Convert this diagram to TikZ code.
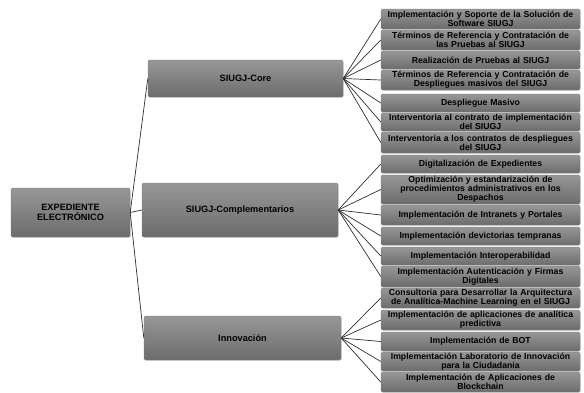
\documentclass[tikz,border=0pt]{standalone}
\usepackage{fontspec}
\setmainfont{Liberation Sans}
\usetikzlibrary{shadows}
\definecolor{boxtop}{HTML}{979797}
\definecolor{boxbot}{HTML}{6C6C6C}
\definecolor{boxedge}{HTML}{7E7E7E}
\definecolor{linecol}{HTML}{2E2E2E}
\definecolor{txtcol}{HTML}{000000}
\tikzset{
  gbox/.style={rectangle, rounded corners=1.5pt, draw=boxedge, line width=0.4pt,
    top color=boxtop, bottom color=boxbot, inner sep=0pt, align=center,
    text=txtcol, font=\bfseries,
    drop shadow={opacity=0.25, shadow xshift=0.8pt, shadow yshift=-0.8pt}},
  leaf/.style={gbox, minimum width=199pt, text width=199pt,
    font=\fontsize{8.7}{9.2}\selectfont\bfseries},
  mid/.style={gbox, font=\fontsize{9.2}{10.2}\selectfont\bfseries},
  conn/.style={draw=linecol, line width=0.7pt}
}
\begin{document}
\begin{tikzpicture}[x=1pt,y=-1pt]
\useasboundingbox (0,0) rectangle (584,392);
% root and mid level
\node[mid, minimum width=119pt, minimum height=49pt] (root) at (70.5,212.5) {EXPEDIENTE\\ELECTRÓNICO};
\node[mid, minimum width=195pt, minimum height=37pt] (core) at (245.5,78.5) {SIUGJ-Core};
\node[mid, minimum width=196pt, minimum height=54pt] (comp) at (240,210) {SIUGJ-Complementarios};
\node[mid, minimum width=197pt, minimum height=44pt] (inno) at (242.5,338) {Innovación};
% leaves
\node[leaf, minimum height=20pt] (l1) at (480.5,19) {Implementación y Soporte de la Solución de\\Software SIUGJ};
\node[leaf, minimum height=20pt] (l2) at (480.5,40) {Términos de Referencia y Contratación de\\las Pruebas al SIUGJ};
\node[leaf, minimum height=18pt] (l3) at (480.5,60) {Realización de Pruebas al SIUGJ};
\node[leaf, minimum height=20pt] (l4) at (480.5,80) {Términos de Referencia y Contratación de\\Despliegues masivos del SIUGJ};
\node[leaf, minimum height=18pt] (l5) at (480.5,103) {Despliegue Masivo};
\node[leaf, minimum height=18pt] (l6) at (480.5,122) {Interventoria al contrato de implementación\\del SIUGJ};
\node[leaf, minimum height=21pt] (l7) at (480.5,142.5) {Interventoria a los contratos de despliegues\\del SIUGJ};
\node[leaf, minimum height=18pt] (l8) at (480.5,164) {Digitalización de Expedientes};
\node[leaf, minimum height=29pt] (l9) at (480.5,189.5) {Optimización y estandarización de\\procedimientos administrativos en los\\Despachos};
\node[leaf, minimum height=20pt] (l10) at (480.5,215) {Implementación de Intranets y Portales};
\node[leaf, minimum height=18pt] (l11) at (480.5,236) {Implementación devictorias tempranas};
\node[leaf, minimum height=18pt] (l12) at (480.5,256) {Implementación Interoperabilidad};
\node[leaf, minimum height=21pt] (l13) at (480.5,276.5) {Implementación Autenticación y Firmas\\Digitales};
\node[leaf, minimum height=20pt] (l14) at (480.5,298) {Consultoria para Desarrollar la Arquitectura\\de Analítica-Machine Learning en el SIUGJ};
\node[leaf, minimum height=20pt] (l15) at (480.5,320) {Implementación de aplicaciones de analítica\\predictiva};
\node[leaf, minimum height=19pt] (l16) at (480.5,341.5) {Implementación de BOT};
\node[leaf, minimum height=19pt] (l17) at (480.5,361.5) {Implementación Laboratorio de Innovación\\para la Ciudadania};
\node[leaf, minimum height=20pt] (l18) at (480.5,382) {Implementación de Aplicaciones de\\Blockchain};
% connectors
\foreach \m in {core,comp,inno} \draw[conn] (root.east) -- (\m.west);
\foreach \l in {1,...,7} \draw[conn] (core.east) -- (l\l.west);
\foreach \l in {8,...,13} \draw[conn] (comp.east) -- (l\l.west);
\foreach \l in {14,...,18} \draw[conn] (inno.east) -- (l\l.west);
\end{tikzpicture}
\end{document}
